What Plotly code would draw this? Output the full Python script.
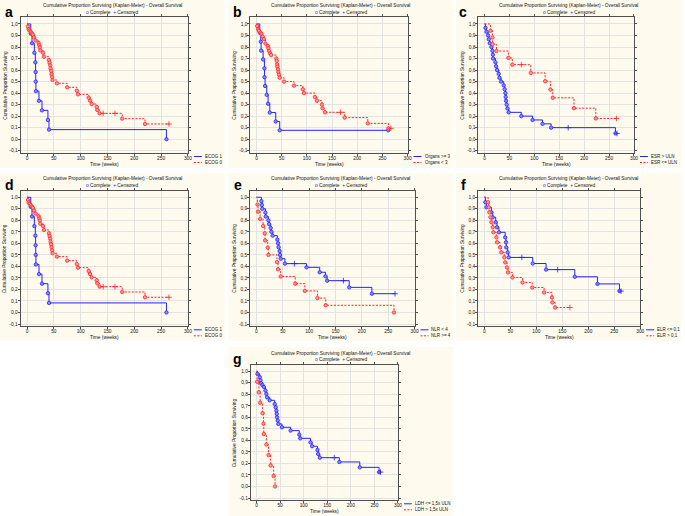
import plotly.graph_objects as go

# ---------------- data ----------------
x_ticks = [0, 50, 100, 150, 200, 250, 300]
x_tick_text = ["0", "50", "100", "150", "200", "250", "300"]
y_ticks = [-0.1, 0.0, 0.1, 0.2, 0.3, 0.4, 0.5, 0.6, 0.7, 0.8, 0.9, 1.0]
y_tick_text = ["-0,1", "0,0", "0,1", "0,2", "0,3", "0,4", "0,5", "0,6", "0,7", "0,8", "0,9", "1,0"]

chart_title = "Cumulative Proportion Surviving (Kaplan-Meier) - Overall Survival"
y_title = "Cumulative Proportion Surviving"
x_title = "Time (weeks)"

# ECOG (panels a and d)
ecog1_time = [7, 9.3, 13.7, 15.5, 16, 16.3, 16.6, 22.3, 27.9, 39, 41, 260]
ecog1_surv = [0.917, 0.833, 0.75, 0.667, 0.583, 0.5, 0.417, 0.333, 0.25, 0.167, 0.083, 0.0]
ecog1_event = [1] * 12
ecog0_time = [1.9, 3, 5, 7, 9.3, 11, 13, 16, 21.6, 23, 24, 24.7, 29.7, 31.5, 40.8, 42, 43.3, 43.9,
              45, 45.8, 47, 47.6, 55.7, 74.8, 92.8, 95.2, 115, 117.5, 120.6, 130, 131, 135.4, 142,
              164, 177.5, 220, 264.7]
ecog0_surv = [0.977, 0.954, 0.943, 0.931, 0.919, 0.907, 0.884, 0.858, 0.835, 0.815, 0.797, 0.771,
              0.751, 0.716, 0.687, 0.664, 0.641, 0.615, 0.592, 0.566, 0.540, 0.514, 0.485, 0.450,
              0.421, 0.389, 0.360, 0.334, 0.305, 0.279, 0.253, 0.224, 0.224, 0.224, 0.178, 0.132,
              0.132]
ecog0_event = [1] * 32 + [0, 0, 1, 1, 0]

# Organs (panel b)
org_hi_time = [6.6, 8.6, 9.2, 13.2, 15.8, 16.0, 17.1, 20.4, 23, 26.4, 38.2, 46.1, 261.7]
org_hi_surv = [0.923, 0.846, 0.769, 0.692, 0.615, 0.538, 0.462, 0.385, 0.308, 0.231, 0.154, 0.077, 0.077]
org_hi_event = [1] * 13
org_lo_time = [1.3, 3.3, 5, 7.9, 9.9, 12.5, 14.5, 17.8, 22.4, 23.7, 25, 27, 29, 39.5, 40.2, 40.9,
               41.5, 42.8, 43.5, 44.8, 46, 54.7, 74.5, 92, 94.3, 116, 120, 130, 131, 136, 167, 175,
               221, 262, 267]
org_lo_surv = [0.983, 0.954, 0.94, 0.925, 0.913, 0.89, 0.87, 0.83, 0.81, 0.79, 0.765, 0.745, 0.73,
               0.70, 0.68, 0.65, 0.63, 0.606, 0.583, 0.56, 0.534, 0.50, 0.465, 0.433, 0.40, 0.366,
               0.334, 0.30, 0.268, 0.233, 0.233, 0.187, 0.137, 0.094, 0.094]
org_lo_event = [1] * 30 + [0, 1, 1, 1, 0]

# ESR (panel c)
esr_hi_time = [2, 4, 7.3, 8.6, 10.6, 14, 16, 17, 17.3, 22, 23.3, 25.3, 28.6, 30, 33.3, 38.6, 40.6,
               42, 42.6, 43.2, 44.6, 46, 48.6, 73.9, 96.5, 116.4, 133.7, 168, 262.8, 266]
esr_hi_surv = [0.967, 0.933, 0.90, 0.867, 0.833, 0.80, 0.767, 0.733, 0.70, 0.667, 0.633, 0.60,
               0.567, 0.533, 0.50, 0.467, 0.433, 0.40, 0.367, 0.333, 0.30, 0.267, 0.233, 0.20,
               0.167, 0.133, 0.10, 0.10, 0.05, 0.05]
esr_hi_event = [1] * 27 + [0, 1, 0]
esr_lo_time = [12, 16, 16.3, 24, 47.9, 55.9, 74, 93, 121.8, 132.4, 137, 179.6, 223.5, 264.8]
esr_lo_surv = [0.941, 0.882, 0.824, 0.765, 0.706, 0.647, 0.647, 0.575, 0.503, 0.431, 0.359, 0.269,
               0.18, 0.18]
esr_lo_event = [1, 1, 1, 1, 1, 1, 0, 1, 1, 1, 1, 1, 1, 0]

# NLR (panel e)
nlr_lo_time = [9.4, 10.2, 11, 17, 17.6, 22.6, 24, 27, 28.3, 30.8, 39.6, 41, 42, 44, 44.7, 46, 54,
               72, 95, 120, 131, 134, 165, 176, 219, 263]
nlr_lo_surv = [0.967, 0.933, 0.90, 0.867, 0.833, 0.80, 0.767, 0.733, 0.70, 0.667, 0.633, 0.60,
               0.567, 0.533, 0.50, 0.467, 0.424, 0.424, 0.392, 0.349, 0.314, 0.276, 0.276, 0.218,
               0.163, 0.163]
nlr_lo_event = [1] * 17 + [0, 1, 1, 1, 1, 0, 1, 1, 0]
nlr_hi_time = [2, 3, 7, 12.6, 15.7, 16.4, 21.4, 22.6, 39, 40.9, 46, 73.6, 91.8, 115.7, 131.4, 261]
nlr_hi_surv = [0.9375, 0.875, 0.8125, 0.75, 0.6875, 0.625, 0.5625, 0.5, 0.4375, 0.375, 0.3125,
               0.25, 0.1875, 0.125, 0.0625, 0.0]
nlr_hi_event = [1] * 16

# ELR (panel f)
elr_lo_time = [1.9, 3.8, 13.4, 16, 21.7, 24.2, 28, 40, 41.5, 42, 44.7, 46.6, 72, 93, 118.7, 141,
               174, 217.6, 260, 263]
elr_lo_surv = [0.957, 0.913, 0.870, 0.826, 0.783, 0.739, 0.696, 0.652, 0.609, 0.565, 0.522, 0.478,
               0.478, 0.425, 0.372, 0.372, 0.31, 0.248, 0.186, 0.186]
elr_lo_event = [1] * 12 + [0, 1, 1, 0, 1, 1, 1, 0]
elr_hi_time = [7, 8.3, 9.6, 11.5, 13.4, 16, 17.2, 23, 24.2, 30, 32.5, 38.3, 40, 43.4, 45.3, 54,
               73.4, 92, 114.9, 130, 130.8, 136, 164.6]
elr_hi_surv = [0.957, 0.913, 0.870, 0.826, 0.783, 0.739, 0.696, 0.652, 0.609, 0.565, 0.522, 0.478,
               0.435, 0.391, 0.348, 0.304, 0.261, 0.217, 0.174, 0.130, 0.087, 0.043, 0.043]
elr_hi_event = [1] * 22 + [0]

# LDH (panel g)
ldh_lo_time = [2.1, 7, 8.4, 9.8, 12.6, 15.5, 19, 21, 22.5, 28, 38.6, 40.8, 42.2, 42.9, 43.6, 45,
               46.4, 54, 72.4, 90.7, 92.8, 114.5, 118, 129.3, 130.7, 134.2, 165, 175.7, 219, 260, 263]
ldh_lo_surv = [0.977, 0.948, 0.922, 0.896, 0.881, 0.864, 0.832, 0.803, 0.774, 0.748, 0.716, 0.687,
               0.658, 0.63, 0.60, 0.572, 0.543, 0.514, 0.485, 0.45, 0.418, 0.383, 0.349, 0.317,
               0.282, 0.25, 0.25, 0.213, 0.166, 0.125, 0.125]
ldh_lo_event = [1] * 26 + [0, 1, 1, 1, 0]
ldh_hi_time = [1.4, 5, 7.7, 13, 14.8, 15.5, 21, 25.5, 30, 36.4, 39.4]
ldh_hi_surv = [0.909, 0.818, 0.727, 0.636, 0.545, 0.455, 0.364, 0.273, 0.182, 0.091, 0.0]
ldh_hi_event = [1] * 11

# ---------------- layout description ----------------
W, H = 685, 516
FONT = "Liberation Sans, Arial, sans-serif"
BLUE = "#2222ff"
BLUE_FILL = "#8c8cff"
RED = "#ff2222"
RED_FILL = "#ff9a9a"
CREAM = "#fefaee"
FS = 4.8

col_rect = [(0, 226), (230, 456), (459, 685)]
row_rect = [(0, 168), (173, 341), (347, 516)]
row_dy = [0, 173.3, 347.3]
letter_x = [9.5, 239, 466]

panels = [
    dict(letter="a", col=0, row=0, frame=(20.7, 189),
         blue=("ECOG 1", ecog1_time, ecog1_surv, ecog1_event),
         red=("ECOG 0", ecog0_time, ecog0_surv, ecog0_event)),
    dict(letter="b", col=1, row=0, frame=(251.9, 410),
         blue=("Organs >= 3", org_hi_time, org_hi_surv, org_hi_event),
         red=("Organs < 3", org_lo_time, org_lo_surv, org_lo_event)),
    dict(letter="c", col=2, row=0, frame=(481.3, 637.7),
         blue=("ESR > ULN", esr_hi_time, esr_hi_surv, esr_hi_event),
         red=("ESR <= ULN", esr_lo_time, esr_lo_surv, esr_lo_event)),
    dict(letter="d", col=0, row=1, frame=(20.7, 189),
         blue=("ECOG 1", ecog1_time, ecog1_surv, ecog1_event),
         red=("ECOG 0", ecog0_time, ecog0_surv, ecog0_event)),
    dict(letter="e", col=1, row=1, frame=(251.6, 417),
         blue=("NLR < 4", nlr_lo_time, nlr_lo_surv, nlr_lo_event),
         red=("NLR >= 4", nlr_hi_time, nlr_hi_surv, nlr_hi_event)),
    dict(letter="f", col=2, row=1, frame=(481, 644),
         blue=("ELR <= 0,1", elr_lo_time, elr_lo_surv, elr_lo_event),
         red=("ELR > 0,1", elr_hi_time, elr_hi_surv, elr_hi_event)),
    dict(letter="g", col=1, row=2, frame=(252.3, 400.3),
         blue=("LDH <= 1,5x ULN", ldh_lo_time, ldh_lo_surv, ldh_lo_event),
         red=("LDH > 1,5x ULN", ldh_hi_time, ldh_hi_surv, ldh_hi_event)),
]


def fx(p):
    return p / W


def fy(p):
    return 1 - p / H


fig = go.Figure()
annotations = []
shapes = []
layout_axes = {}
RED_DASH = "2px,1.5px"

for i, p in enumerate(panels, start=1):
    xa = "x" if i == 1 else f"x{i}"
    ya = "y" if i == 1 else f"y{i}"
    xkey = "xaxis" if i == 1 else f"xaxis{i}"
    ykey = "yaxis" if i == 1 else f"yaxis{i}"
    left, right = p["frame"]
    dy = row_dy[p["row"]]
    top, bottom = 17.3 + dy, 153 + dy
    cx0, cx1 = col_rect[p["col"]]
    ry0, ry1 = row_rect[p["row"]]

    # panel background
    shapes.append(dict(type="rect", xref="paper", yref="paper", x0=fx(cx0), x1=fx(cx1),
                       y0=fy(ry1), y1=fy(ry0), fillcolor=CREAM, line=dict(width=0), layer="below"))

    axis_common = dict(showline=True, linecolor="#505050", linewidth=1, mirror="ticks",
                       ticks="outside", ticklen=2, tickcolor="#505050", tickwidth=1,
                       showgrid=True, gridcolor="#e3e3e3", gridwidth=1, zeroline=False,
                       tickfont=dict(family=FONT, size=FS, color="#111"))
    layout_axes[xkey] = dict(domain=[fx(left), fx(right)], range=[-12, 300], anchor=ya,
                             tickvals=x_ticks, ticktext=x_tick_text, ticklabelstandoff=-2,
                             **axis_common)
    layout_axes[ykey] = dict(domain=[fy(bottom), fy(top)], range=[-0.12, 1.058], anchor=xa,
                             tickvals=y_ticks, ticktext=y_tick_text, ticklabelstandoff=-1,
                             **axis_common)

    for key, color, fill, dash in (("blue", BLUE, BLUE_FILL, "solid"), ("red", RED, RED_FILL, RED_DASH)):
        name, t, s, ev = p[key]
        fig.add_trace(go.Scatter(x=[0] + list(t), y=[1.0] + list(s), mode="lines",
                                 line=dict(color=color, width=1, dash=dash, shape="hv"),
                                 xaxis=xa, yaxis=ya, showlegend=False, hoverinfo="skip"))
        et = [a for a, e in zip(t, ev) if e]
        es = [b for b, e in zip(s, ev) if e]
        ct = [a for a, e in zip(t, ev) if not e]
        cs = [b for b, e in zip(s, ev) if not e]
        fig.add_trace(go.Scatter(x=et, y=es, mode="markers",
                                 marker=dict(symbol="circle", size=3.4, color=fill,
                                             line=dict(color=color, width=0.8)),
                                 xaxis=xa, yaxis=ya, showlegend=False, name=name))
        fig.add_trace(go.Scatter(x=ct, y=cs, mode="markers",
                                 marker=dict(symbol="cross-thin", size=4,
                                             line=dict(color=color, width=0.8)),
                                 xaxis=xa, yaxis=ya, showlegend=False, name=name))

    # legend (bottom right)
    for k, (key, color, dash) in enumerate((("blue", BLUE, "solid"), ("red", RED, RED_DASH))):
        ly = bottom + 3.5 + 6 * k
        shapes.append(dict(type="line", xref="paper", yref="paper", x0=fx(right + 6), x1=fx(right + 14),
                           y0=fy(ly), y1=fy(ly), line=dict(color=color, width=1, dash=dash)))
        annotations.append(dict(xref="paper", yref="paper", x=fx(right + 15), y=fy(ly),
                                text=p[key][0], showarrow=False, xanchor="left", yanchor="middle",
                                font=dict(family=FONT, size=4.5, color="#111")))

    pc = (cx0 + cx1) / 2
    annotations.append(dict(xref="paper", yref="paper", x=fx(pc), y=fy(5.7 + dy), text=chart_title,
                            showarrow=False, xanchor="center", yanchor="middle",
                            font=dict(family=FONT, size=FS, color="#111")))
    annotations.append(dict(xref="paper", yref="paper", x=fx(pc), y=fy(12 + dy),
                            text=f'<span style="color:{BLUE}">o</span> Complete  '
                                 f'<span style="color:{BLUE}">+</span> Censored',
                            showarrow=False, xanchor="center", yanchor="middle",
                            font=dict(family=FONT, size=FS, color="#111")))
    annotations.append(dict(xref="paper", yref="paper", x=fx(letter_x[p["col"]]), y=fy(11.5 + dy),
                            text=f"<b>{p['letter']}</b>", showarrow=False, xanchor="center",
                            yanchor="middle", font=dict(family=FONT, size=14, color="#000")))
    annotations.append(dict(xref="paper", yref="paper", x=fx(left - 16), y=fy((top + bottom) / 2),
                            text=y_title, textangle=-90, showarrow=False, xanchor="center",
                            yanchor="middle", font=dict(family=FONT, size=FS, color="#111")))
    annotations.append(dict(xref="paper", yref="paper", x=fx((left + right) / 2), y=fy(bottom + 11.3),
                            text=x_title, showarrow=False, xanchor="center", yanchor="middle",
                            font=dict(family=FONT, size=FS, color="#111")))

fig.update_layout(width=W, height=H, margin=dict(l=0, r=0, t=0, b=0), autosize=False,
                  paper_bgcolor="white", plot_bgcolor="white", showlegend=False,
                  font=dict(family=FONT, size=FS), annotations=annotations, shapes=shapes,
                  hovermode=False, **layout_axes)

fig.write_html("out.html", config={"displayModeBar": False, "staticPlot": True},
               post_script="document.body.style.margin='0px';document.body.style.overflow='hidden';")
